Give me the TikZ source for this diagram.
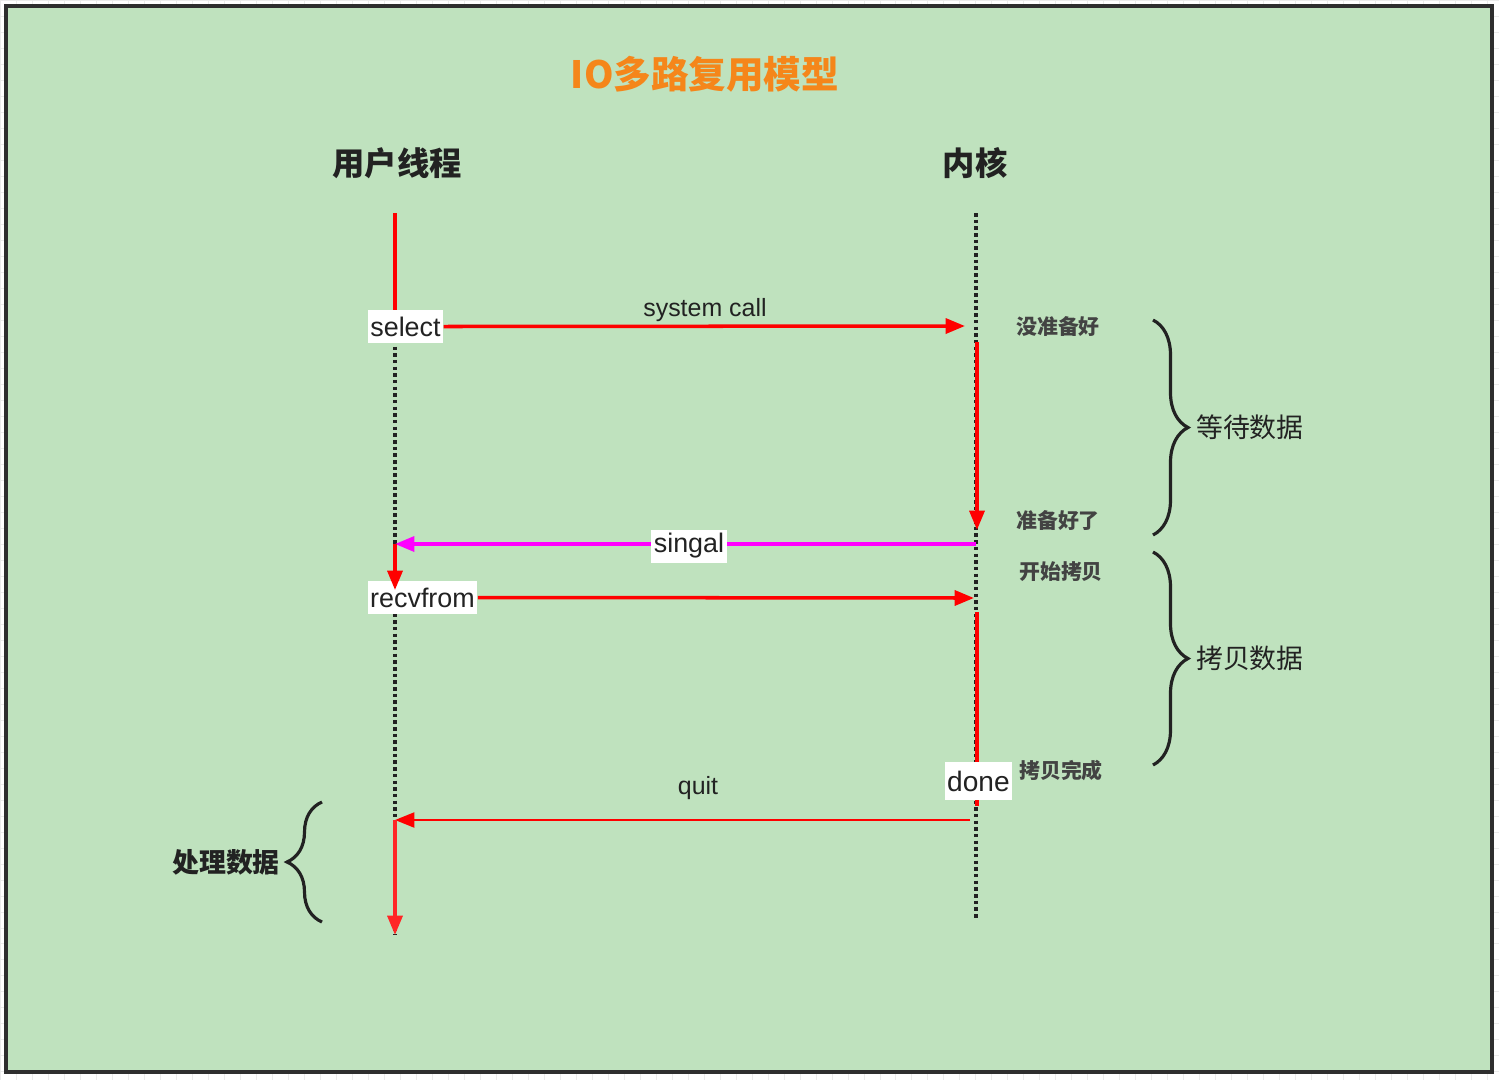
\documentclass[tikz,border=0pt]{standalone}
\usepackage{fontspec}
\setmainfont{Liberation Sans}
\newfontfamily\cjk{Noto Sans CJK SC}
\usepackage{tikz}
\usetikzlibrary{arrows.meta,decorations.pathreplacing}
\definecolor{ioGreen}{HTML}{BFE2BE}
\definecolor{ioFrame}{HTML}{2E2E2E}
\definecolor{ioOrange}{HTML}{F5861A}
\definecolor{ioInk}{HTML}{222222}
\definecolor{ioRed}{HTML}{FF0000}
\definecolor{ioPink}{HTML}{FF00FF}
\definecolor{ioGrid}{HTML}{EBEBEB}
\tikzset{
  lifeline/.style={ioInk,line width=2.2pt,dash pattern=on 2pt off 1.8pt},
  busy/.style={ioRed,line width=2pt},
  callarrow/.style={-{Triangle[length=11pt,width=8.5pt]},ioRed,line width=2pt},
  callbox/.style={fill=white,inner xsep=1.5pt,inner ysep=0pt,minimum height=0.66cm,
    font=\fontsize{15.3}{16}\selectfont,text=ioInk},
  msg/.style={font=\fontsize{14.2}{15}\selectfont,text=ioInk},
  state/.style={font=\cjk\bfseries\fontsize{11.9}{13}\selectfont,text=ioInk!85!white},
  phase/.style={font=\cjk\fontsize{15.3}{17}\selectfont,text=ioInk},
  span/.style={decorate,decoration={brace,amplitude=0.7cm},ioInk,line width=1.8pt}
}

\begin{document}
\begin{tikzpicture}[x=0.02cm,y=-0.02cm]
  \useasboundingbox (0,0) rectangle (1499,1080);
  \draw[ioGrid,line width=.4pt,step=0.32cm] (0,0) grid (1499,1080);
  \draw[fill=ioGreen,draw=ioFrame,line width=2.2pt] (6,6) rectangle (1492,1072);

  % titles
  \node[font=\cjk\bfseries\fontsize{21.4}{23}\selectfont,text=ioOrange] (title) at (705,74) {IO多路复用模型};
  \node[font=\cjk\bfseries\fontsize{18.4}{20}\selectfont,text=ioInk] (uhead) at (397,163) {用户线程};
  \node[font=\cjk\bfseries\fontsize{18.4}{20}\selectfont,text=ioInk] (khead) at (975,163) {内核};

  % lifelines
  \coordinate (u0) at (395,213);
  \coordinate (uEnd) at (395,935);
  \coordinate (k0) at (976,213);
  \coordinate (kEnd) at (976,918);
  \draw[lifeline] (u0) -- (uEnd);
  \draw[lifeline] (k0) -- (kEnd);

  \coordinate (kcall) at (965,326);
  \coordinate (kwait0) at (977,342);
  \coordinate (kwait1) at (977,530);
  \coordinate (ksig) at (976,544);
  \coordinate (usig) at (395,544);
  \coordinate (urecv) at (395,590);
  \coordinate (kcopy) at (974,598);
  \coordinate (kcopy0) at (977,612);
  \coordinate (kcopy1) at (977,806);
  \coordinate (kquit) at (970,820);
  \coordinate (uquit) at (395,820);

  % call boxes
  \node[callbox] (select) at (405.5,326.5) {select};
  \node[callbox] (recvfrom) at (422.5,597.5) {recvfrom};

  \draw[busy] (u0) -- (select.north -| u0);
  \draw[callarrow] (select.east) -- (kcall);
  \draw[callarrow] (kwait0) -- (kwait1);
  \draw[-{Triangle[length=11pt,width=8.5pt]},ioPink,line width=2pt] (ksig) -- (usig);
  \draw[callarrow] (recvfrom.east) -- (kcopy);
  \draw[busy] (kcopy0) -- (kcopy1);
  \draw[-{Triangle[length=11pt,width=8.5pt]},ioRed,line width=1.3pt] (kquit) -- (uquit);
  \draw[-{Triangle[length=11pt,width=8.5pt]},ioRed!85!white,line width=2pt] (uquit) -- (uEnd);

  \node[callbox] (singal) at (689,546) {singal};
  \node[callbox,minimum height=0.76cm,font=\fontsize{16}{17}\selectfont] (done) at (978.5,781) {done};
  \draw[callarrow] (usig) -- (urecv);

  \node[msg] (syscall) at (705,310) {system call};
  \node[msg] (quit) at (698,788) {quit};

  % kernel states
  \foreach \nm/\x/\y/\txt in {notready/1058/327/没准备好, ready/1058/521/准备好了,
    copystart/1061/572/开始拷贝, copyend/1061/771/拷贝完成}
    \node[state] (\nm) at (\x,\y) {\txt};

  % phases
  \draw[span] (1153,320) -- (1153,535);
  \node[phase,anchor=west] (waitdata) at (1190,427) {等待数据};
  \draw[span] (1153,552) -- (1153,765);
  \node[phase,anchor=west] (copydata) at (1190,658) {拷贝数据};
  \draw[span] (322,922) -- (322,802);
  \node[phase,font=\cjk\bfseries\fontsize{15.3}{17}\selectfont,anchor=east] (handle) at (286,862) {处理数据};
\end{tikzpicture}
\end{document}
